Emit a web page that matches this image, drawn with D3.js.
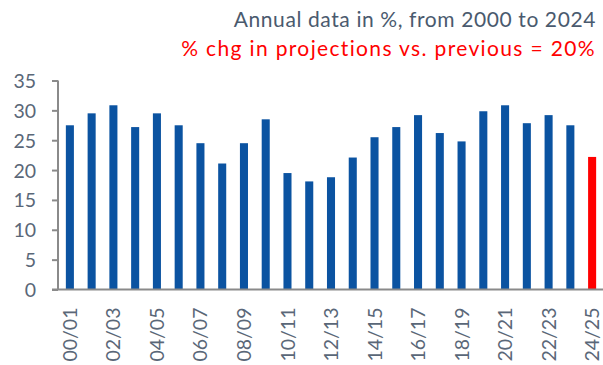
<!DOCTYPE html>
<html>
<head>
<meta charset="utf-8">
<script src="https://cdn.jsdelivr.net/npm/d3@7"></script>
<style>
  html, body { margin: 0; padding: 0; background: #fff; }
  svg { display: block; }
  text { font-family: Lato, "Open Sans", sans-serif; }
</style>
</head>
<body>
<svg id="chart" width="603" height="365"></svg>
<script>
// Fiscal years 2000/01 .. 2024/25
const categories = ["00/01","01/02","02/03","03/04","04/05","05/06","06/07","07/08","08/09","09/10",
  "10/11","11/12","12/13","13/14","14/15","15/16","16/17","17/18","18/19","19/20",
  "20/21","21/22","22/23","23/24","24/25"];
const values = [27.5, 29.5, 30.85, 27.2, 29.5, 27.5, 24.5, 21.1, 24.5, 28.5,
  19.5, 18.1, 18.8, 22.1, 25.5, 27.2, 29.2, 26.2, 24.8, 29.85,
  30.85, 27.85, 29.2, 27.5, 22.2];
const projected = ["24/25"];
const yTicks = [0, 5, 10, 15, 20, 25, 30, 35];
const titleLines = ["Annual data in %, from 2000 to 2024", "% chg in projections vs. previous = 20%"];

const svg = d3.select("#chart");
const axisColor = "#8a8a8a";
const textColor = "#5a6778";

const x = d3.scaleBand().domain(categories).range([59, 603]).paddingInner(0.63).paddingOuter(0.315);
const y = d3.scaleLinear().domain([0, 35]).range([289.5, 80.5]);

// bars
svg.append("g").selectAll("rect").data(categories).join("rect")
  .attr("x", d => x(d))
  .attr("width", x.bandwidth())
  .attr("y", (d, i) => y(values[i]))
  .attr("height", (d, i) => y(0) - y(values[i]))
  .attr("fill", d => projected.includes(d) ? "#ff0000" : "#0b53a1");

// y axis
const yAxis = svg.append("g").attr("transform", "translate(58,0)")
  .call(d3.axisLeft(y).tickValues(yTicks).tickSize(6).tickPadding(16));
yAxis.select(".domain").attr("stroke", axisColor).attr("stroke-width", 2).attr("d", `M0,${y(35)}V${y(0)}`);
yAxis.selectAll(".tick line").attr("stroke", axisColor).attr("stroke-width", 2);
yAxis.selectAll(".tick text").attr("fill", textColor).style("font-size", "19.5px").attr("dy", "0.36em");

// x axis baseline + labels (every other category)
const xAxis = svg.append("g").attr("transform", `translate(0,${y(0)})`)
  .call(d3.axisBottom(x).tickValues(categories.filter((d, i) => i % 2 === 0)).tickSize(0).tickPadding(0));
xAxis.select(".domain").attr("stroke", axisColor).attr("stroke-width", 2).attr("d", "M52,0H603");
xAxis.selectAll(".tick text")
  .attr("fill", textColor).style("font-size", "19.5px")
  .attr("transform", "rotate(-90)")
  .attr("text-anchor", "end")
  .attr("x", -18).attr("y", 0).attr("dy", "0.36em");

// titles
svg.append("text").attr("x", 596).attr("y", 27).attr("text-anchor", "end")
  .attr("fill", "#4a5a6e").style("font-size", "21px").style("letter-spacing", "0.6px").text(titleLines[0]);
svg.append("text").attr("x", 596).attr("y", 56).attr("text-anchor", "end")
  .attr("fill", "#ff0000").style("font-size", "21px").style("letter-spacing", "1.35px").text(titleLines[1]);
</script>
</body>
</html>
